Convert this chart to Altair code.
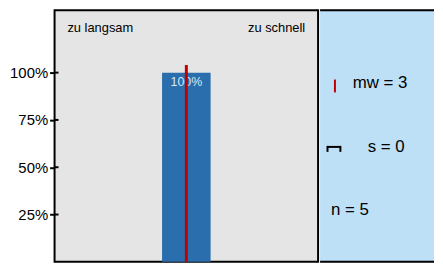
import altair as alt
import pandas as pd

# ---- data ----
categories = [1, 2, 3, 4, 5]
shares = [0.0, 0.0, 1.0, 0.0, 0.0]
bar_labels = ["", "", "100%", "", ""]
mean_value = 3
mean_line_top = 1.04
tick_values = [0.25, 0.5, 0.75, 1.0]
end_labels = ["zu langsam", "zu schnell"]
stat_labels = ["mw = 3", "s = 0", "n = 5"]

FONT = "Liberation Sans"
GRAY = "#e5e5e5"
BLUE = "#bde0f6"
BAR = "#2a6ead"
RED = "#c00000"

LW, H = 266, 254
RW = 115

bars = pd.DataFrame({"cat": categories, "share": shares, "label": bar_labels})
bars = bars[bars["share"] > 0]
mean_df = pd.DataFrame({"mw": [mean_value], "y0": [0.0], "y1": [mean_line_top]})
ticks_df = pd.DataFrame({"t": tick_values})

xs = alt.Scale(domain=[0.5, 5.5], nice=False, zero=False)
ys = alt.Scale(domain=[0, 1.33], nice=False, zero=True)

bar_layer = alt.Chart(bars).mark_bar(color=BAR, size=49).encode(
    x=alt.X("cat:Q", scale=xs, axis=None),
    y=alt.Y("share:Q", scale=ys, axis=alt.Axis(
        values=tick_values, format=".0%", title=None, grid=False, domain=False,
        labelFont=FONT, labelFontSize=15, labelColor="black", labelPadding=2,
        tickColor="black", tickWidth=2, tickSize=5)),
)

bar_text = alt.Chart(bars).mark_text(
    font=FONT, fontSize=12.5, color="#dce8f3", baseline="top", dy=3
).encode(x=alt.X("cat:Q", scale=xs), y=alt.Y("share:Q", scale=ys), text="label:N")

mean_rule = alt.Chart(mean_df).mark_rule(color=RED, strokeWidth=3).encode(
    x=alt.X("mw:Q", scale=xs), y=alt.Y("y0:Q", scale=ys), y2="y1:Q"
)

inner_ticks = alt.Chart(ticks_df).mark_rule(color="black", strokeWidth=2).encode(
    y=alt.Y("t:Q", scale=ys), x=alt.value(0), x2=alt.value(4)
)

left_lbl = alt.Chart(pd.DataFrame({"s": [end_labels[0]]})).mark_text(
    font=FONT, fontSize=13, align="left", baseline="middle", color="black"
).encode(x=alt.value(13), y=alt.value(18), text="s:N")
right_lbl = alt.Chart(pd.DataFrame({"s": [end_labels[1]]})).mark_text(
    font=FONT, fontSize=13, align="right", baseline="middle", color="black"
).encode(x=alt.value(LW - 13), y=alt.value(18), text="s:N")

left = alt.layer(bar_layer, bar_text, mean_rule, inner_ticks, left_lbl, right_lbl).properties(
    width=LW, height=H,
    view=alt.ViewBackground(fill=GRAY, stroke="black", strokeWidth=2),
)

# ---- right panel (open on its right side) ----
one = pd.DataFrame({"a": [0]})
border_top = alt.Chart(one).mark_rule(color="black", strokeWidth=2).encode(
    x=alt.value(0), x2=alt.value(RW), y=alt.value(0)
)
border_bottom = alt.Chart(one).mark_rule(color="black", strokeWidth=2).encode(
    x=alt.value(0), x2=alt.value(RW), y=alt.value(H)
)
red_icon = alt.Chart(one).mark_rule(color=RED, strokeWidth=2).encode(
    x=alt.value(15), y=alt.value(70), y2=alt.value(83)
)
br_top = alt.Chart(one).mark_rule(color="black", strokeWidth=2).encode(
    x=alt.value(7), x2=alt.value(21), y=alt.value(138)
)
br_l = alt.Chart(one).mark_rule(color="black", strokeWidth=2).encode(
    x=alt.value(7.5), y=alt.value(137), y2=alt.value(143)
)
br_r = alt.Chart(one).mark_rule(color="black", strokeWidth=2).encode(
    x=alt.value(20.5), y=alt.value(137), y2=alt.value(143)
)

def stat_text(label, x, y):
    return alt.Chart(pd.DataFrame({"s": [label]})).mark_text(
        font=FONT, fontSize=17, align="left", baseline="middle", color="black"
    ).encode(x=alt.value(x), y=alt.value(y), text="s:N")

right = alt.layer(
    border_top, border_bottom, red_icon, br_top, br_l, br_r,
    stat_text(stat_labels[0], 33, 74),
    stat_text(stat_labels[1], 48, 138),
    stat_text(stat_labels[2], 11, 202),
).properties(
    width=RW, height=H,
    view=alt.ViewBackground(fill=BLUE, strokeWidth=0),
)

chart = alt.hconcat(left, right, spacing=0).properties(
    padding={"left": 0, "top": 0, "right": 0, "bottom": 0}
).configure(background="white")

chart.save("out.html", embed_options={"renderer": "svg", "actions": False})
